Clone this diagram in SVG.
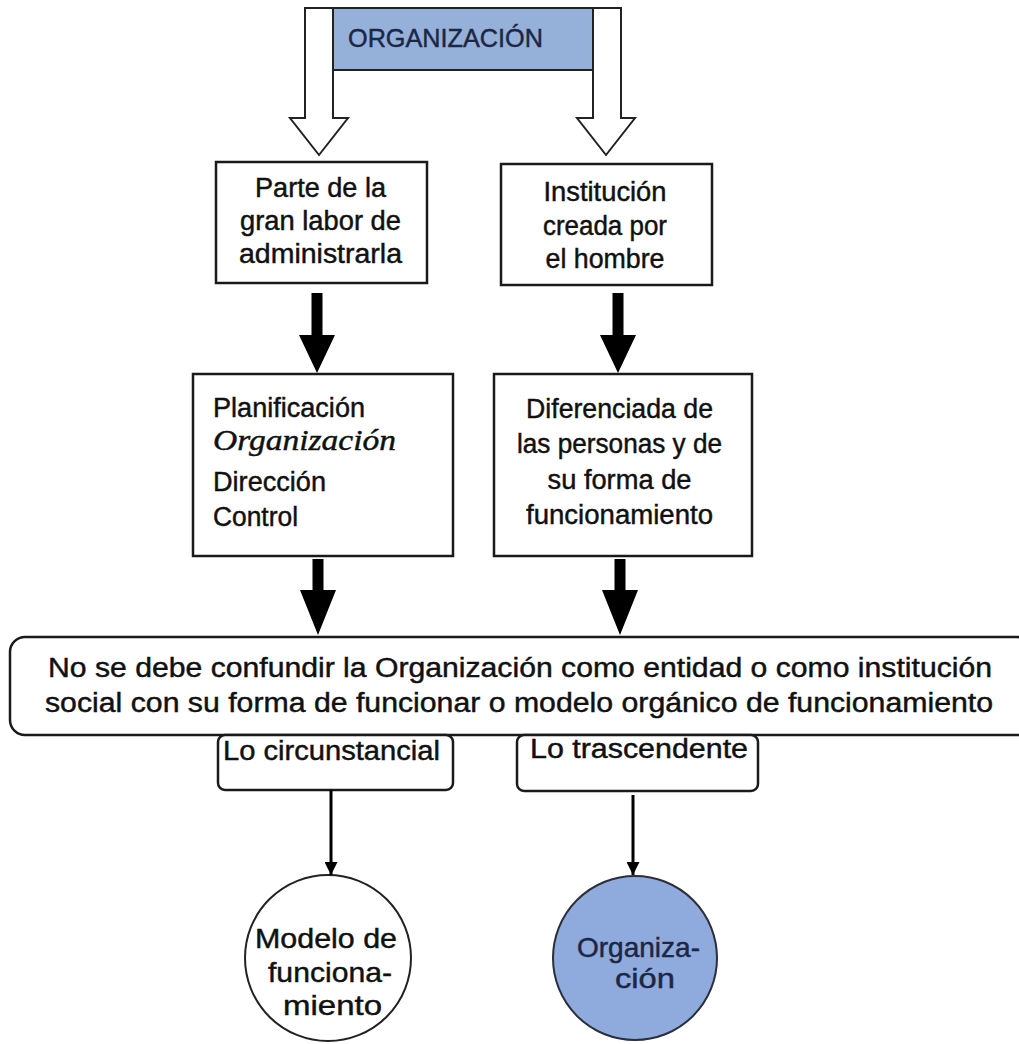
<svg xmlns="http://www.w3.org/2000/svg" width="1019" height="1044" viewBox="0 0 1019 1044">
<defs>
<style>
.t{font-family:"Liberation Sans",Arial,sans-serif;font-size:27px;fill:#111;stroke:#111;stroke-width:0.45px;}
.c{text-anchor:middle;}
.box{fill:#fff;stroke:#1a1a1a;stroke-width:2.5;}
.navy{fill:#1c2745;stroke:#1c2745;}
.blk{fill:#000;}
.ln{stroke:#000;stroke-width:3;fill:none;}
</style>
<marker id="ah" markerUnits="userSpaceOnUse" markerWidth="13" markerHeight="13" viewBox="0 0 10 10" refX="10" refY="5" orient="auto">
<path d="M0,0 L10,5 L0,10 Z" fill="#000"/>
</marker>
</defs>
<rect width="1019" height="1044" fill="#fff"/>

<g id="organizacion">
<path d="M305,8 H621 V118 H635 L606,155 L577,118 H593 V70 H333 V118 H348 L319,155 L290,118 H305 Z" fill="#fff" stroke="#222" stroke-width="2"/>
<rect x="333" y="8" width="260" height="62" fill="#95B1DA" stroke="#222" stroke-width="2"/>
<text class="t navy" x="348" y="47" style="font-size:26px" textLength="195" lengthAdjust="spacingAndGlyphs">ORGANIZACIÓN</text>
</g>

<g id="parte">
<rect class="box" x="216" y="162" width="211" height="121"/>
<text class="t c" x="320.5" y="197" textLength="131" lengthAdjust="spacingAndGlyphs">Parte de la</text>
<text class="t c" x="320.5" y="230" textLength="161" lengthAdjust="spacingAndGlyphs">gran labor de</text>
<text class="t c" x="320.5" y="263" textLength="163" lengthAdjust="spacingAndGlyphs">administrarla</text>
</g>

<g id="institucion">
<rect class="box" x="501" y="164" width="211" height="121"/>
<text class="t c" x="605" y="201" textLength="123" lengthAdjust="spacingAndGlyphs">Institución</text>
<text class="t c" x="605" y="235" textLength="124" lengthAdjust="spacingAndGlyphs">creada por</text>
<text class="t c" x="605" y="268" textLength="119" lengthAdjust="spacingAndGlyphs">el hombre</text>
</g>

<g id="funciones">
<rect class="box" x="193" y="374" width="260" height="182"/>
<text class="t" x="213" y="417" textLength="152" lengthAdjust="spacingAndGlyphs">Planificación</text>
<text class="t" x="213" y="450" style="font-family:'Liberation Serif','Times New Roman',serif;font-style:italic;font-size:30px" textLength="183" lengthAdjust="spacingAndGlyphs">Organización</text>
<text class="t" x="213" y="491" textLength="113" lengthAdjust="spacingAndGlyphs">Dirección</text>
<text class="t" x="213" y="526" textLength="85" lengthAdjust="spacingAndGlyphs">Control</text>
</g>

<g id="diferenciada">
<rect class="box" x="494" y="374" width="258" height="182"/>
<text class="t c" x="619.5" y="418" textLength="187" lengthAdjust="spacingAndGlyphs">Diferenciada de</text>
<text class="t c" x="619.5" y="453" textLength="205" lengthAdjust="spacingAndGlyphs">las personas y de</text>
<text class="t c" x="619.5" y="489" textLength="144" lengthAdjust="spacingAndGlyphs">su forma de</text>
<text class="t c" x="619.5" y="524" textLength="187" lengthAdjust="spacingAndGlyphs">funcionamiento</text>
</g>

<g id="no-confundir">
<rect class="box" x="10" y="637" width="1022" height="98" rx="15" ry="15"/>
<text class="t" x="48" y="677" textLength="944" lengthAdjust="spacingAndGlyphs">No se debe confundir la Organización como entidad o como institución</text>
<text class="t" x="45" y="712" textLength="948" lengthAdjust="spacingAndGlyphs">social con su forma de funcionar o modelo orgánico de funcionamiento</text>
</g>

<g id="circunstancial">
<rect class="box" x="218" y="735" width="235" height="55" rx="7" ry="7"/>
<text class="t" x="223" y="760" textLength="217" lengthAdjust="spacingAndGlyphs">Lo circunstancial</text>
</g>

<g id="trascendente">
<rect class="box" x="517" y="735" width="241" height="56" rx="7" ry="7"/>
<text class="t" x="530" y="758" textLength="218" lengthAdjust="spacingAndGlyphs">Lo trascendente</text>
</g>

<g id="modelo">
<circle cx="328" cy="958" r="83" fill="#fff" stroke="#222" stroke-width="2"/>
<text class="t c" x="326" y="948" style="font-size:28px" textLength="142" lengthAdjust="spacingAndGlyphs">Modelo de</text>
<text class="t c" x="330" y="982" style="font-size:28px" textLength="124" lengthAdjust="spacingAndGlyphs">funciona-</text>
<text class="t c" x="332.5" y="1015" style="font-size:28px" textLength="99" lengthAdjust="spacingAndGlyphs">miento</text>
</g>

<g id="organizacion-circulo">
<circle cx="635" cy="958" r="82" fill="#8FAADC" stroke="#2a2f3a" stroke-width="2"/>
<text class="t c navy" x="638.5" y="957" style="font-size:28px" textLength="123" lengthAdjust="spacingAndGlyphs">Organiza-</text>
<text class="t c navy" x="645" y="988" style="font-size:28px" textLength="60" lengthAdjust="spacingAndGlyphs">ción</text>
</g>

<g id="connectors">
<polygon class="blk" points="311.5,293 322.5,293 322.5,335 335,335 317,373 299,335 311.5,335"/>
<polygon class="blk" points="612.5,293 623.5,293 623.5,335 636,335 618,373 600,335 612.5,335"/>
<polygon class="blk" points="312.5,559 323.5,559 323.5,590 336,590 318,635 300,590 312.5,590"/>
<polygon class="blk" points="614.5,559 625.5,559 625.5,590 638,590 620,635 602,590 614.5,590"/>
<line class="ln" x1="331" y1="790" x2="331" y2="875" marker-end="url(#ah)"/>
<line class="ln" x1="633" y1="795" x2="633" y2="875" marker-end="url(#ah)"/>
</g>
</svg>
